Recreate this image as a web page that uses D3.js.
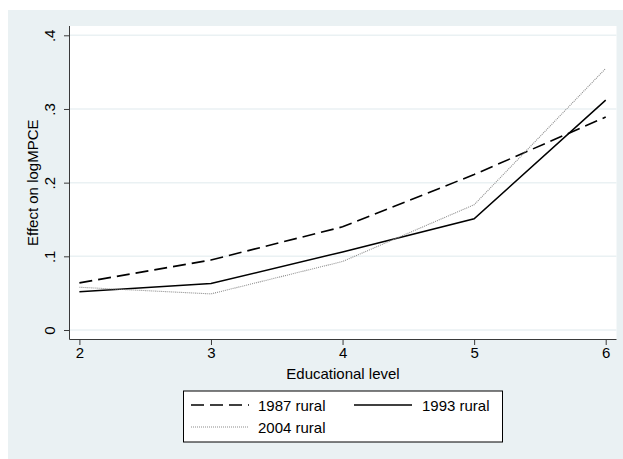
<!DOCTYPE html>
<html><head><meta charset="utf-8">
<script src="https://cdn.jsdelivr.net/npm/d3@7"></script>
<style>body{margin:0;background:#fff}svg{display:block;font-family:"Liberation Sans",Arial,Helvetica,sans-serif}</style>
</head><body><svg id="c" width="623" height="459"></svg>
<script>
const levels = [2, 3, 4, 5, 6];
const rural1987 = [0.064, 0.095, 0.140, 0.211, 0.289];
const rural1993 = [0.052, 0.063, 0.106, 0.151, 0.312];
const rural2004 = [0.058, 0.049, 0.093, 0.170, 0.355];
const seriesNames = ["1987 rural", "1993 rural", "2004 rural"];
const yTicks = [0, 0.1, 0.2, 0.3, 0.4];
const yTickLabels = ["0", ".1", ".2", ".3", ".4"];
const xTicks = [2, 3, 4, 5, 6];
const xTitle = "Educational level";
const yTitle = "Effect on logMPCE";

const svg = d3.select("#c");
const bg = "#EAF1F3";
const axisColor = "#3a3a3a";
const fs = 15;

// outer graph region
svg.append("rect").attr("x", 8).attr("y", 10).attr("width", 615).attr("height", 449).attr("fill", bg);

// plot region
const P = {l: 69.5, r: 616.5, t: 26, b: 339.5};
svg.append("rect").attr("x", P.l).attr("y", P.t).attr("width", P.r - P.l).attr("height", P.b - P.t).attr("fill", "#fff");

const x = d3.scaleLinear().domain([2, 6]).range([79.4, 605.7]);
const y = d3.scaleLinear().domain([0, 0.4]).range([330, 35.3]);

// gridlines
svg.append("g").selectAll("line").data(yTicks).join("line")
  .attr("x1", P.l).attr("x2", P.r)
  .attr("y1", d => y(d)).attr("y2", d => y(d))
  .attr("stroke", bg).attr("stroke-width", 1.5);

// series
const series = [
  {name: seriesNames[0], values: rural1987, color: "#000", width: 1.6, dash: "13,6"},
  {name: seriesNames[1], values: rural1993, color: "#000", width: 1.5, dash: null},
  {name: seriesNames[2], values: rural2004, color: "#8c8c8c", width: 1.1, dash: "1,1"}
];
const line = d3.line().x((d, i) => x(levels[i])).y(d => y(d));
svg.append("g").selectAll("path").data(series).join("path")
  .attr("d", d => line(d.values))
  .attr("fill", "none")
  .attr("stroke", d => d.color)
  .attr("stroke-width", d => d.width)
  .attr("stroke-dasharray", d => d.dash);

// y axis
const yAxis = svg.append("g").attr("transform", `translate(${P.l},0)`)
  .call(d3.axisLeft(y).tickValues(yTicks).tickFormat((d, i) => yTickLabels[i]).tickSize(5.5).tickPadding(0));
yAxis.select(".domain").attr("d", `M0,${P.t}V${P.b}`).attr("stroke", axisColor);
yAxis.selectAll(".tick line").attr("stroke", axisColor);
yAxis.selectAll(".tick text")
  .attr("x", null).attr("dy", null)
  .attr("transform", "translate(-15,0) rotate(-90)")
  .attr("text-anchor", "middle")
  .attr("font-size", fs).attr("font-family", "Liberation Sans, Arial, sans-serif").attr("fill", "#000");

// x axis
const xAxis = svg.append("g").attr("transform", `translate(0,${P.b})`)
  .call(d3.axisBottom(x).tickValues(xTicks).tickFormat(d3.format("d")).tickSize(5.5).tickPadding(2));
xAxis.select(".domain").attr("d", `M${P.l},0H${P.r}`).attr("stroke", axisColor);
xAxis.selectAll(".tick line").attr("stroke", axisColor);
xAxis.selectAll(".tick text").attr("font-size", fs).attr("font-family", "Liberation Sans, Arial, sans-serif").attr("fill", "#000");

// titles
svg.append("text").attr("x", (P.l + P.r) / 2).attr("y", 379).attr("text-anchor", "middle")
  .attr("font-size", fs).text(xTitle);
svg.append("text").attr("transform", `translate(38,${(P.t + P.b) / 2}) rotate(-90)`).attr("text-anchor", "middle")
  .attr("font-size", fs).text(yTitle);

// legend
const L = svg.append("g");
L.append("rect").attr("x", 183.5).attr("y", 391).attr("width", 319).attr("height", 51)
  .attr("fill", "#fff").attr("stroke", "#000").attr("stroke-width", 1);
const legPos = [{x: 191, y: 405}, {x: 354, y: 405}, {x: 191, y: 427}];
const items = L.selectAll("g.item").data(series).join("g").attr("class", "item")
  .attr("transform", (d, i) => `translate(${legPos[i].x},${legPos[i].y})`);
items.append("line").attr("x1", 0).attr("x2", 58).attr("y1", 0).attr("y2", 0)
  .attr("stroke", d => d.color).attr("stroke-width", d => d.width).attr("stroke-dasharray", d => d.dash);
items.append("text").attr("x", (d, i) => i === 1 ? 68 : 67).attr("y", 5.5).attr("font-size", fs).text(d => d.name);
</script></body></html>
